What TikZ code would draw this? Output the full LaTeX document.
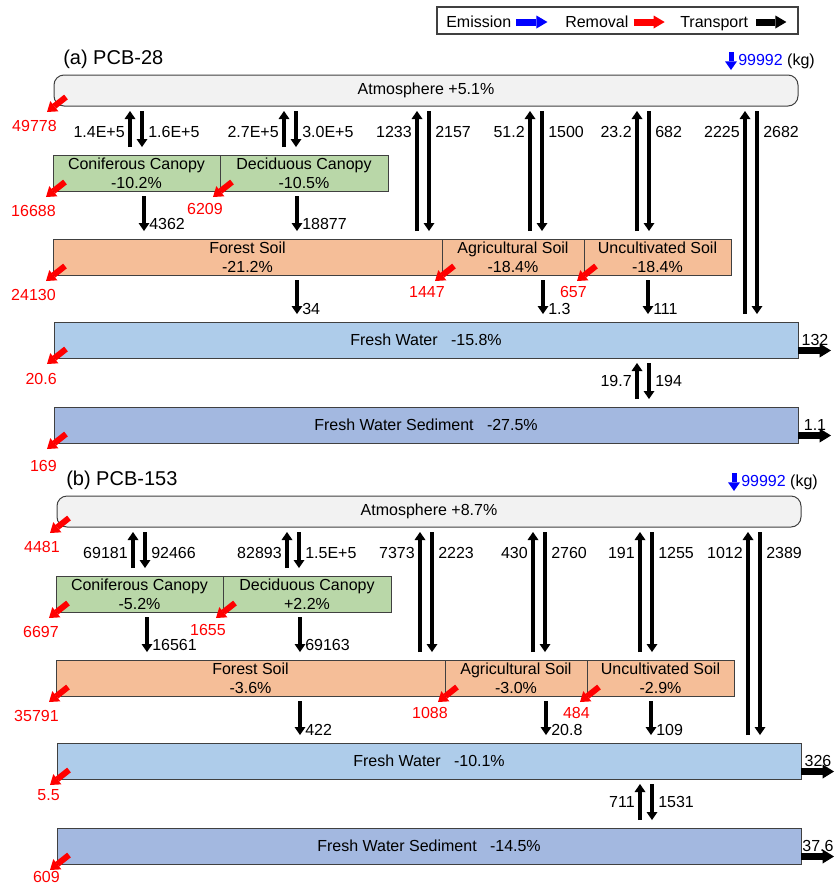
\documentclass[tikz,border=0pt]{standalone}
\usepackage{fontspec}
\setmainfont{Liberation Sans}
\usetikzlibrary{arrows.meta}

\definecolor{atmFill}{HTML}{F2F2F2}
\definecolor{canopyFill}{HTML}{B9D7A8}
\definecolor{soilFill}{HTML}{F5BE98}
\definecolor{waterFill}{HTML}{AECCEA}
\definecolor{sedFill}{HTML}{A3B8E0}
\definecolor{edgeGray}{HTML}{404040}
\definecolor{emisBlue}{HTML}{0000FF}
\definecolor{remRed}{HTML}{FF0000}

% values printed in one panel
\pgfkeys{/flux/.cd,
  title/.store in=\fxTitle,
  atm/.store in=\fxAtm, con/.store in=\fxCon, dec/.store in=\fxDec,
  fst/.store in=\fxFst, agr/.store in=\fxAgr, unc/.store in=\fxUnc,
  fw/.store in=\fxFw, sd/.store in=\fxSd,
  lAtm/.store in=\fxlAtm, lCon/.store in=\fxlCon, lDec/.store in=\fxlDec,
  lFst/.store in=\fxlFst, lAgr/.store in=\fxlAgr, lUnc/.store in=\fxlUnc,
  lFw/.store in=\fxlFw, lSd/.store in=\fxlSd,
  fwGap/.store in=\fxFwGap, sdGap/.store in=\fxSdGap,
  uCon/.store in=\fxuCon, dCon/.store in=\fxdCon,
  uDec/.store in=\fxuDec, dDec/.store in=\fxdDec,
  uFst/.store in=\fxuFst, dFst/.store in=\fxdFst,
  uAgr/.store in=\fxuAgr, dAgr/.store in=\fxdAgr,
  uUnc/.store in=\fxuUnc, dUnc/.store in=\fxdUnc,
  uFw/.store in=\fxuFw, dFw/.store in=\fxdFw,
  uSd/.store in=\fxuSd, dSd/.store in=\fxdSd,
  cCon/.store in=\fxcCon, cDec/.store in=\fxcDec,
  wFst/.store in=\fxwFst, wAgr/.store in=\fxwAgr, wUnc/.store in=\fxwUnc,
  oFw/.store in=\fxoFw, oSd/.store in=\fxoSd}

\tikzset{
  every node/.style={font=\fontsize{12pt}{14.5pt}\selectfont},
  titleText/.style={inner sep=0pt, font=\fontsize{15pt}{18pt}\selectfont},
  compartment/.style={draw=edgeGray, line width=0.75pt, rectangle, align=center,
    inner sep=0pt, outer sep=0pt, minimum height=27pt},
  atmBox/.style={compartment, fill=atmFill, rounded corners=7.5pt,
    minimum height=23.25pt, minimum width=558pt},
  canopyBox/.style={compartment, fill=canopyFill},
  soilBox/.style={compartment, fill=soilFill},
  waterBox/.style={compartment, fill=waterFill, minimum width=558pt},
  sedBox/.style={compartment, fill=sedFill, minimum width=558pt},
  flux/.style={inner sep=0pt},
  lossText/.style={flux, anchor=east, text=remRed},
  trArr/.style={line width=3.4pt,
    -{Triangle[width=8.25pt,length=6pt,line width=0pt]}},
  arrDn/.style={trArr, shorten <=3.75pt, shorten >=6pt},
  arrUp/.style={trArr, shorten <=6pt, shorten >=3.75pt},
  lossArr/.style={draw=remRed, line width=4.5pt,
    -{Triangle[width=9.75pt,length=7pt,line width=0pt]}},
  outArr/.style={line width=5.5pt,
    -{Triangle[width=10.5pt,length=8.5pt,line width=0pt]}},
  legArr/.style={line width=5.25pt,
    -{Triangle[width=9.75pt,length=8.25pt,line width=0pt]}},
  emisArr/.style={draw=emisBlue, line width=3.75pt,
    -{Triangle[width=9pt,length=6.5pt,line width=0pt]}},
}

% removal arrow leaving the lower left corner of a compartment,
% its amount set #4 below that corner
\newcommand\lossArrow[4]{%
  \draw[lossArr] (#1.south west) ++(12,-9) -- ++(-19,15);
  \path (#1.south west) ++(3,#4) node[lossText] (#2) {#3};
}
% upward and downward transport between two compartments
\newcommand\fluxPair[7]{%
  \draw[arrUp] (#2.north -| #3,0) -- (#1.south -| #3,0);
  \draw[arrDn] (#1.south -| #3+12,0) -- (#2.north -| #3+12,0);
  \node[flux, anchor=east] (#7u) at (#3-5,#4) {#5};
  \node[flux, anchor=west] (#7d) at (#3+18,#4) {#6};
}
% one-way downward transport
\newcommand\fluxDrop[6]{%
  \draw[arrDn] (#1.south -| #3,0) -- (#2.north -| #3,0);
  \node[flux, anchor=west] (#6) at (#3+5,#4) {#5};
}
% outflow to the right of a water compartment
\newcommand\fluxOut[3]{%
  \draw[outArr] (#1.south east) ++(0,-7.5) -- ++(33,0);
  \path (#1.south east) ++(17,-13) node[flux, anchor=base] (#3) {#2};
}

\newcommand\fluxpanel[2]{%
  \pgfqkeys{/flux}{#2}%
  \node[titleText, anchor=base west] (title#1) at (63,64.5) {\fxTitle};
  \draw[emisArr] (731,52) coordinate (emS#1) -- (731,70) coordinate (emE#1);
  \node[flux, anchor=base west] (emis#1) at (738,65) {\textcolor{emisBlue}{99992} (kg)};
  % compartments
  \node[atmBox] (atm#1) at (426,90.5) {Atmosphere +\fxAtm};
  \node[canopyBox, minimum width=125.25pt] (con#1) at (136.5,173) {Coniferous Canopy\\\fxCon};
  \node[canopyBox, minimum width=126pt] (dec#1) at (304,173) {Deciduous Canopy\\\fxDec};
  \node[soilBox, minimum width=291.75pt] (fst#1) at (247.5,257) {Forest Soil\\\fxFst};
  \node[soilBox, minimum width=106.5pt] (agr#1) at (513,257) {Agricultural Soil\\\fxAgr};
  \node[soilBox, minimum width=110.25pt] (unc#1) at (657.5,257) {Uncultivated Soil\\\fxUnc};
  \node[waterBox] (fw#1) at (426,340) {Fresh Water\hspace{10pt}\fxFw};
  \node[sedBox] (sd#1) at (426,425) {Fresh Water Sediment\hspace{10pt}\fxSd};
  % removal
  \lossArrow{atm#1}{lAtm#1}{\fxlAtm}{20}
  \lossArrow{con#1}{lCon#1}{\fxlCon}{20}
  \lossArrow{dec#1}{lDec#1}{\fxlDec}{18}
  \lossArrow{fst#1}{lFst#1}{\fxlFst}{20}
  \lossArrow{agr#1}{lAgr#1}{\fxlAgr}{17}
  \lossArrow{unc#1}{lUnc#1}{\fxlUnc}{17}
  \lossArrow{fw#1}{lFw#1}{\fxlFw}{\fxFwGap}
  \lossArrow{sd#1}{lSd#1}{\fxlSd}{\fxSdGap}
  % exchange with the atmosphere
  \fluxPair{atm#1}{con#1}{130}{132}{\fxuCon}{\fxdCon}{pCon#1}
  \fluxPair{atm#1}{dec#1}{284}{132}{\fxuDec}{\fxdDec}{pDec#1}
  \fluxPair{atm#1}{fst#1}{417}{132}{\fxuFst}{\fxdFst}{pFst#1}
  \fluxPair{atm#1}{agr#1}{530}{132}{\fxuAgr}{\fxdAgr}{pAgr#1}
  \fluxPair{atm#1}{unc#1}{637}{132}{\fxuUnc}{\fxdUnc}{pUnc#1}
  \fluxPair{atm#1}{fw#1}{745}{132}{\fxuFw}{\fxdFw}{pFw#1}
  % litter fall, runoff, water-sediment exchange
  \fluxDrop{con#1}{fst#1}{144}{224}{\fxcCon}{cCon#1}
  \fluxDrop{dec#1}{fst#1}{297}{224}{\fxcDec}{cDec#1}
  \fluxDrop{fst#1}{fw#1}{297}{309}{\fxwFst}{wFst#1}
  \fluxDrop{agr#1}{fw#1}{543}{309}{\fxwAgr}{wAgr#1}
  \fluxDrop{unc#1}{fw#1}{648}{309}{\fxwUnc}{wUnc#1}
  \fluxPair{fw#1}{sd#1}{637}{381}{\fxuSd}{\fxdSd}{pSd#1}
  % outflows
  \fluxOut{fw#1}{\fxoFw}{oFw#1}
  \fluxOut{sd#1}{\fxoSd}{oSd#1}
}

\begin{document}
\begin{tikzpicture}[x=0.75pt, y=-0.75pt]
  \useasboundingbox (0,0) rectangle (837,886);

  % legend
  \node[draw=edgeGray, line width=1.1pt, minimum width=270.75pt, minimum height=20.25pt,
        inner sep=0pt, outer sep=0pt] (legend) at (617.5,20.5) {};
  \node[flux, anchor=base west] (legEm) at (446,27.5) {Emission};
  \draw[legArr, draw=emisBlue] (legEm.base east) ++(5,-5.5) -- ++(31,0);
  \node[flux, anchor=base west] (legRm) at (565,27.5) {Removal};
  \draw[legArr, draw=remRed] (legRm.base east) ++(5,-5.5) -- ++(31,0);
  \node[flux, anchor=base west] (legTr) at (680,27.5) {Transport};
  \draw[legArr] (legTr.base east) ++(8,-5.5) -- ++(30,0);

  \begin{scope}
    \fluxpanel{A}{title={(a) PCB-28}, atm=5.1\%, con=-10.2\%, dec=-10.5\%,
      fst=-21.2\%, agr=-18.4\%, unc=-18.4\%, fw=-15.8\%, sd=-27.5\%,
      lAtm=49778, lCon=16688, lDec=6209, lFst=24130, lAgr=1447, lUnc=657,
      lFw=20.6, lSd=169, fwGap=21, sdGap=23,
      uCon=1.4E+5, dCon=1.6E+5, uDec=2.7E+5, dDec=3.0E+5,
      uFst=1233, dFst=2157, uAgr=51.2, dAgr=1500, uUnc=23.2, dUnc=682,
      uFw=2225, dFw=2682, uSd=19.7, dSd=194,
      cCon=4362, cDec=18877, wFst=34, wAgr=1.3, wUnc=111,
      oFw=132, oSd=1.1}
  \end{scope}

  \begin{scope}[shift={(3,421)}]
    \fluxpanel{B}{title={(b) PCB-153}, atm=8.7\%, con=-5.2\%, dec=+2.2\%,
      fst=-3.6\%, agr=-3.0\%, unc=-2.9\%, fw=-10.1\%, sd=-14.5\%,
      lAtm=4481, lCon=6697, lDec=1655, lFst=35791, lAgr=1088, lUnc=484,
      lFw=5.5, lSd=609, fwGap=16, sdGap=13,
      uCon=69181, dCon=92466, uDec=82893, dDec=1.5E+5,
      uFst=7373, dFst=2223, uAgr=430, dAgr=2760, uUnc=191, dUnc=1255,
      uFw=1012, dFw=2389, uSd=711, dSd=1531,
      cCon=16561, cDec=69163, wFst=422, wAgr=20.8, wUnc=109,
      oFw=326, oSd=37.6}
  \end{scope}
\end{tikzpicture}
\end{document}
